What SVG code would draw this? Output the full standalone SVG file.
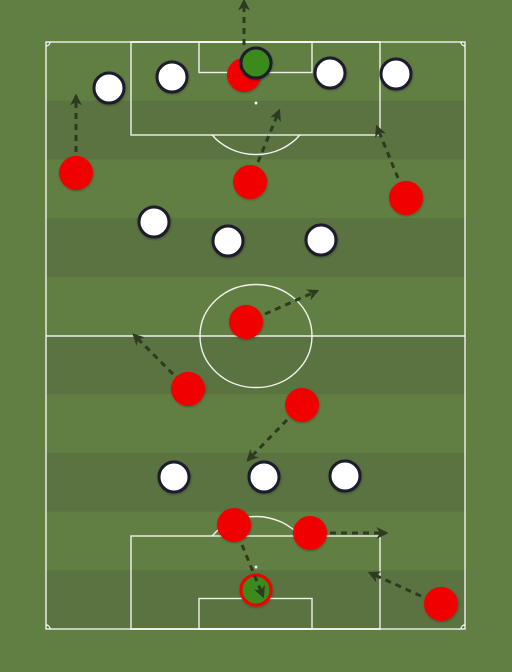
<svg xmlns="http://www.w3.org/2000/svg" width="512" height="672" viewBox="0 0 512 672">
<style>
.ln{fill:none;stroke:#ffffff;stroke-width:1.4;stroke-opacity:0.9}
.band{fill:#5a7340}
.opp{fill:#ffffff;stroke:#1c1b2e;stroke-width:3}
.red{fill:#f00000}
.gk{fill:#3c8a1a;stroke:#1c1b2e;stroke-width:3}
.gk2{fill:#3c8a1a;stroke:#f00000;stroke-width:3}
.run{fill:none;stroke:#2d3b21;stroke-width:3;stroke-dasharray:6 5;marker-end:url(#ah)}
</style>
<defs>
<marker id="ah" viewBox="0 0 10 10" refX="8" refY="5" markerWidth="4" markerHeight="4" orient="auto" markerUnits="strokeWidth">
<path d="M0,0 L10,5 L0,10 L3,5 z" fill="#2d3b21"/>
</marker>
<filter id="sh" x="-30%" y="-30%" width="160%" height="160%">
<feDropShadow dx="0.5" dy="1" stdDeviation="1" flood-color="#000" flood-opacity="0.3"/>
</filter>
</defs>
<rect x="0" y="0" width="512" height="672" fill="#627f43"/>
<g id="pitch">
<rect class="band" x="46" y="100.7" width="419" height="58.7"/>
<rect class="band" x="46" y="218.1" width="419" height="58.7"/>
<rect class="band" x="46" y="335.5" width="419" height="58.7"/>
<rect class="band" x="46" y="452.9" width="419" height="58.7"/>
<rect class="band" x="46" y="570.3" width="419" height="58.7"/>
<rect class="ln" x="46" y="42" width="419" height="587"/>
<line class="ln" x1="46" y1="336" x2="465" y2="336"/>
<ellipse class="ln" cx="256" cy="336" rx="56" ry="51.5"/>
<rect class="ln" x="131" y="42" width="249" height="93"/>
<rect class="ln" x="199" y="42" width="113" height="30.5"/>
<circle cx="256" cy="103" r="1.5" fill="#fff"/>
<path class="ln" d="M212.1,135 A56,51.5 0 0 0 299.9,135"/>
<rect class="ln" x="131" y="536" width="249" height="93"/>
<rect class="ln" x="199" y="598.5" width="113" height="30.5"/>
<circle cx="256" cy="567" r="1.5" fill="#fff"/>
<path class="ln" d="M212.1,536 A56,51.5 0 0 1 299.9,536"/>
<path class="ln" d="M46,46 A4,4 0 0 0 50,42"/>
<path class="ln" d="M461,42 A4,4 0 0 0 465,46"/>
<path class="ln" d="M46,625 A4,4 0 0 1 50,629"/>
<path class="ln" d="M461,629 A4,4 0 0 1 465,625"/>
</g>
<g id="red-players" filter="url(#sh)">
<circle id="r1" class="red" cx="244" cy="75" r="17"/>
<circle id="r2" class="red" cx="76" cy="173" r="17"/>
<circle id="r3" class="red" cx="250" cy="182" r="17"/>
<circle id="r4" class="red" cx="406" cy="198" r="17"/>
<circle id="r5" class="red" cx="246" cy="322" r="17"/>
<circle id="r6" class="red" cx="188" cy="389" r="17"/>
<circle id="r7" class="red" cx="302" cy="405" r="17"/>
<circle id="r8" class="red" cx="234" cy="525" r="17"/>
<circle id="r9" class="red" cx="310" cy="533" r="17"/>
<circle id="r10" class="red" cx="441" cy="604" r="17"/>
<circle id="rgk" class="gk2" cx="256" cy="590" r="15"/>
</g>
<g id="white-players" filter="url(#sh)">
<circle id="gk" class="gk" cx="256" cy="63" r="15"/>
<circle id="w1" class="opp" cx="109" cy="88" r="15"/>
<circle id="w2" class="opp" cx="172" cy="77" r="15"/>
<circle id="w3" class="opp" cx="330" cy="73" r="15"/>
<circle id="w4" class="opp" cx="396" cy="74" r="15"/>
<circle id="w5" class="opp" cx="154" cy="222" r="15"/>
<circle id="w6" class="opp" cx="228" cy="241" r="15"/>
<circle id="w7" class="opp" cx="321" cy="240" r="15"/>
<circle id="w8" class="opp" cx="174" cy="477" r="15"/>
<circle id="w9" class="opp" cx="264" cy="477" r="15"/>
<circle id="w10" class="opp" cx="345" cy="476" r="15"/>
</g>
<g id="connectors">
<line class="run" x1="244" y1="45" x2="244" y2="1"/>
<line class="run" x1="76" y1="152" x2="76" y2="96"/>
<line class="run" x1="258" y1="162" x2="279" y2="111"/>
<line class="run" x1="398" y1="178" x2="377" y2="127"/>
<line class="run" x1="265" y1="314" x2="317" y2="291"/>
<line class="run" x1="173" y1="374" x2="134" y2="335"/>
<line class="run" x1="287" y1="420" x2="248" y2="460"/>
<line class="run" x1="242" y1="545" x2="263" y2="596"/>
<line class="run" x1="330" y1="533" x2="386" y2="533"/>
<line class="run" x1="421" y1="596" x2="370" y2="573"/>
</g>
</svg>
